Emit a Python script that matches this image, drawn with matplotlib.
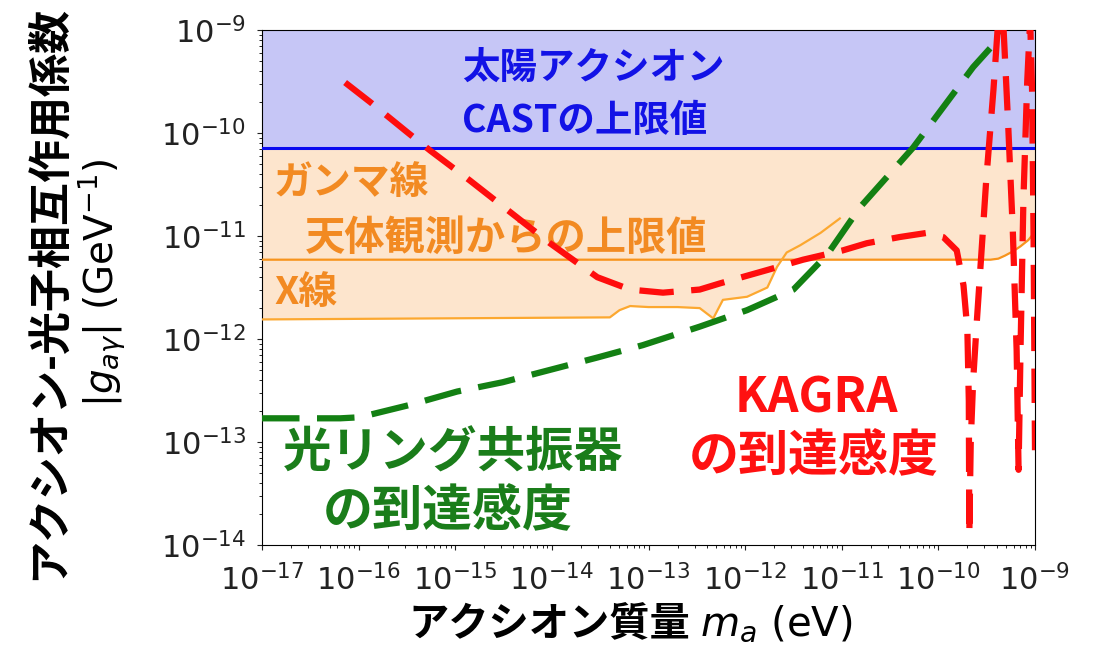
import numpy as np
import matplotlib
matplotlib.use('Agg')
import matplotlib.pyplot as plt
from matplotlib.ticker import LogLocator, NullFormatter

JP = ['Noto Sans CJK JP', 'DejaVu Sans']

# Limits (log10 values)
cast_log = -10.15          # CAST upper limit
gamma_logm = [-17.0, -9.55, -9.46, -9.38, -9.31, -9.23, -9.15, -9.07, -9.0]
gamma_logg = [-11.23, -11.23, -11.23, -11.22, -11.19, -11.15, -11.10, -11.04, -10.96]

xray_logm = [-17.0, -13.40, -13.30, -13.19, -13.0, -12.70, -12.47, -12.33, -12.23,
             -11.98, -11.77, -11.67, -11.57, -11.43, -11.22, -11.02]
xray_logg = [-11.81, -11.79, -11.72, -11.68, -11.69, -11.69, -11.70, -11.80, -11.62,
             -11.59, -11.50, -11.30, -11.16, -11.09, -10.97, -10.83]

# Optical ring cavity sensitivity
ring_logm = [-17.0, -16.19, -15.99, -15.47, -14.98, -14.51, -14.02, -13.53, -13.06,
             -12.47, -11.98, -11.50, -11.15, -10.81, -10.26, -9.64, -9.39, -9.34]
ring_logg = [-12.77, -12.77, -12.76, -12.64, -12.51, -12.42, -12.30, -12.18, -12.06,
             -11.88, -11.72, -11.52, -11.18, -10.72, -10.14, -9.36, -9.10, -9.0]

# KAGRA sensitivity
kagra_logm = [-16.14, -15.88, -15.50, -15.26, -14.85, -14.36, -14.02, -13.53, -13.19,
              -12.85, -12.47, -12.26, -11.77, -11.40, -10.99, -10.74, -10.40, -10.12,
              -9.95, -9.81, -9.74, -9.70, -9.685, -9.68, -9.665, -9.64, -9.60, -9.55,
              -9.505, -9.43, -9.38, -9.33, -9.28, -9.23, -9.19, -9.17, -9.15, -9.12,
              -9.08, -9.05, -9.03, -9.015, -9.0]
kagra_logg = [-9.51, -9.70, -9.99, -10.17, -10.46, -10.82, -11.07, -11.40, -11.52,
              -11.55, -11.52, -11.46, -11.33, -11.23, -11.14, -11.07, -11.01, -10.97,
              -11.01, -11.14, -11.48, -11.91, -12.60, -13.90, -13.0, -12.40, -11.80, -11.10,
              -10.46, -9.58, -8.9, -8.9, -9.87, -10.94, -12.11, -13.27, -12.11, -10.65,
              -9.49, -8.9, -9.6, -11.0, -13.08]

fig = plt.figure(figsize=(10.98, 6.52), dpi=100)
ax = fig.add_axes([262 / 1098, 1 - 545 / 652, 773 / 1098, 515 / 652])
ax.set_xscale('log')
ax.set_yscale('log')
ax.set_xlim(1e-17, 1e-9)
ax.set_ylim(1e-14, 1e-9)

gm = 10 ** np.array(gamma_logm)
gg = 10 ** np.array(gamma_logg)
xm = 10 ** np.array(xray_logm)
xg = 10 ** np.array(xray_logg)
cast = 10 ** cast_log

# shaded excluded regions
ax.fill_between([1e-17, 1e-9], cast, 1e-9, color='#c6c6f6', zorder=1, lw=0)
ax.fill_between(gm, gg, cast, color='#fde5cd', zorder=1, lw=0)
ax.fill_between(xm, xg, cast, color='#fde5cd', zorder=1, lw=0)
ax.axhline(cast, color='#0a0af0', lw=2.2, zorder=3)
ax.plot(gm, gg, color='#f7941d', lw=1.6, zorder=3)
ax.plot(xm, xg, color='#fca830', lw=1.6, zorder=3)

ax.plot(10 ** np.array(ring_logm), 10 ** np.array(ring_logg), color='#138013',
        lw=4.5, dashes=(6, 2.8), zorder=4)
ax.plot(10 ** np.array(kagra_logm), 10 ** np.array(kagra_logg), color='#ff0d0d',
        lw=4.5, dashes=(5.5, 2.8), zorder=4)

ax.xaxis.set_major_locator(LogLocator(base=10, numticks=20))
ax.xaxis.set_minor_locator(LogLocator(base=10, subs=np.arange(2, 10), numticks=20))
ax.xaxis.set_minor_formatter(NullFormatter())
ax.yaxis.set_major_locator(LogLocator(base=10, numticks=20))
ax.yaxis.set_minor_locator(LogLocator(base=10, subs=np.arange(2, 10), numticks=20))
ax.yaxis.set_minor_formatter(NullFormatter())
ax.tick_params(labelsize=22, colors='#222222')
ax.tick_params(axis='x', which='major', pad=10)
ax.tick_params(axis='y', which='major', pad=8)

# annotations
ax.text(0.259, 0.928, '太陽アクシオン', transform=ax.transAxes, family=JP,
        fontsize=27, fontweight='bold', color='#1212e6', va='center')
ax.text(0.259, 0.825, 'CASTの上限値', transform=ax.transAxes, family=JP,
        fontsize=27, fontweight='bold', color='#1212e6', va='center')
orange = '#f28a22'
ax.text(0.0155, 0.703, 'ガンマ線', transform=ax.transAxes, family=JP,
        fontsize=28, fontweight='bold', color=orange, va='center')
ax.text(0.0556, 0.596, '天体観測からの上限値', transform=ax.transAxes, family=JP,
        fontsize=29, fontweight='bold', color=orange, va='center')
ax.text(0.0155, 0.491, 'X線', transform=ax.transAxes, family=JP,
        fontsize=28, fontweight='bold', color=orange, va='center')
green = '#1a7d1a'
ax.text(0.027, 0.179, '光リング共振器', transform=ax.transAxes, family=JP,
        fontsize=35, fontweight='bold', color=green, va='center')
ax.text(0.078, 0.064, 'の到達感度', transform=ax.transAxes, family=JP,
        fontsize=36, fontweight='bold', color=green, va='center')
ax.text(0.717, 0.285, 'KAGRA', transform=ax.transAxes, family=JP,
        fontsize=35, fontweight='bold', color='#ff1111', va='center', ha='center')
ax.text(0.714, 0.171, 'の到達感度', transform=ax.transAxes, family=JP,
        fontsize=36, fontweight='bold', color='#ff1111', va='center', ha='center')

# axis labels
fig.text(690 / 1098, 1 - 624 / 652, 'アクシオン質量', family=JP, fontsize=29,
         fontweight='bold', ha='right', va='center')
fig.text(700 / 1098, 1 - 624 / 652, r'$m_a$ (eV)', fontsize=29, ha='left', va='center')
fig.text(48 / 1098, 1 - 292 / 652, 'アクシオン-光子相互作用係数', family=JP, fontsize=31,
         fontweight='bold', rotation=90, ha='center', va='center')
fig.text(102 / 1098, 1 - 283 / 652, r'$|g_{a\gamma}|$ (GeV$^{-1}$)', fontsize=28,
         rotation=90, ha='center', va='center')

fig.savefig('out.png', dpi=100)
